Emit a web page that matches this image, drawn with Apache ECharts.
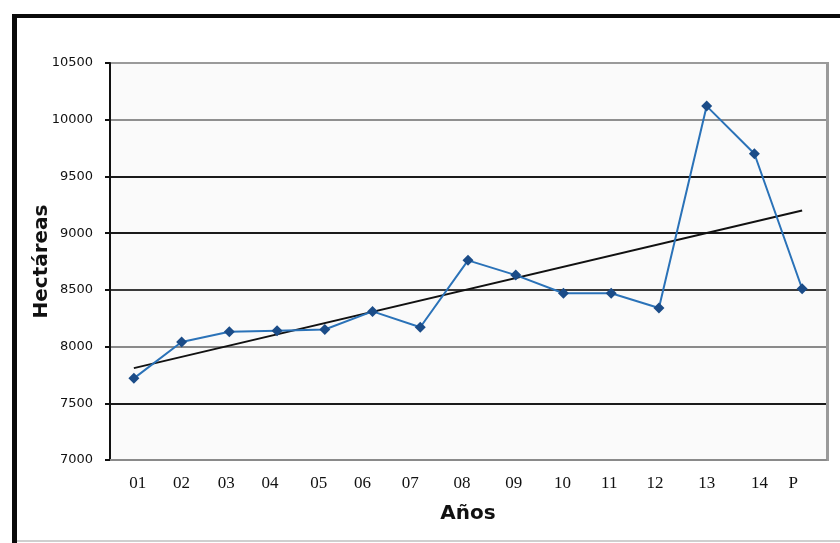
<!DOCTYPE html>
<html>
<head>
<meta charset="utf-8">
<script src="https://cdn.jsdelivr.net/npm/echarts@6/dist/echarts.min.js"></script>
<style>
html,body{margin:0;padding:0;background:#fff;}
#chart{width:840px;height:543px;}
</style>
</head>
<body>
<div id="chart"></div>
<script>
// ---- data ----
var categories = ['01','02','03','04','05','06','07','08','09','10','11','12','13','14','P'];
var hectareas = [7720, 8040, 8130, 8140, 8150, 8310, 8170, 8760, 8630, 8470, 8470, 8340, 10120, 9700, 8510];
var trendEnds = [7810, 9200]; // linear trend value at first and last category
var yTicks = [7000, 7500, 8000, 8500, 9000, 9500, 10000, 10500];

// ---- styling helpers ----
var labelShift = [4,0,-3,-7,-6,-10,-10,-6,-2,-1,-2,-4,0,5,-9];
var rich = {};
labelShift.forEach(function(s, i){
  rich['l' + i] = {
    fontFamily: 'Liberation Serif', fontSize: 17, color: '#111',
    padding: s >= 0 ? [0, 0, 0, 2 * s] : [0, -2 * s, 0, 0]
  };
});
var trendData = categories.map(function(c, i){
  if (i === 0) return trendEnds[0];
  if (i === categories.length - 1) return trendEnds[1];
  return null;
});

var chart = echarts.init(document.getElementById('chart'), null, {renderer: 'canvas'});
chart.setOption({
  animation: false,
  backgroundColor: '#ffffff',
  grid: {left: 110, right: 14, top: 63, bottom: 83, show: true, backgroundColor: '#fafafa', borderWidth: 0},
  xAxis: {
    type: 'category',
    data: categories,
    boundaryGap: true,
    name: 'Años',
    nameLocation: 'middle',
    nameGap: 44,
    nameMoveOverlap: false,
    nameTextStyle: {fontFamily: 'DejaVu Sans', fontWeight: 'bold', fontSize: 20, color: '#111'},
    axisLine: {show: true, lineStyle: {color: '#8a8a8a', width: 2}},
    axisTick: {show: false},
    axisLabel: {
      margin: 15,
      interval: 0,
      formatter: function(v, i){ return '{l' + i + '|' + v + '}'; },
      rich: rich
    },
    splitLine: {show: false}
  },
  yAxis: {
    type: 'value',
    min: yTicks[0],
    max: yTicks[yTicks.length - 1],
    interval: yTicks[1] - yTicks[0],
    name: 'Hectáreas',
    nameLocation: 'middle',
    nameRotate: 90,
    nameGap: 58,
    nameMoveOverlap: false,
    nameTextStyle: {fontFamily: 'DejaVu Sans', fontWeight: 'bold', fontSize: 20, color: '#111'},
    axisLine: {show: true, lineStyle: {color: '#111', width: 2}},
    axisTick: {show: true, length: 5, lineStyle: {color: '#111', width: 2}},
    axisLabel: {margin: 17, fontFamily: 'DejaVu Sans', fontSize: 13, color: '#111',
      formatter: function(v){ return String(v); }},
    splitLine: {show: true, lineStyle: {width: 2, color: ['#8f8f8f', '#1a1a1a', '#8a8a8a', '#3a3a3a', '#1a1a1a', '#1a1a1a', '#8f8f8f', '#9a9a9a']}}
  },
  series: [
    {
      name: 'Hectáreas',
      type: 'line',
      data: hectareas,
      symbol: 'diamond',
      symbolSize: 11,
      lineStyle: {color: '#2a72b8', width: 2},
      itemStyle: {color: '#1b4c88'},
      z: 3
    },
    {
      name: 'Tendencia',
      type: 'line',
      data: trendData,
      connectNulls: true,
      showSymbol: false,
      symbol: 'none',
      lineStyle: {color: '#111', width: 2},
      z: 2
    }
  ],
  graphic: [
    {type: 'rect', left: 826, top: 62, shape: {width: 3, height: 399}, style: {fill: '#9a9a9a'}, silent: true},
    {type: 'rect', left: 12, top: 14, shape: {width: 5, height: 529}, style: {fill: '#0a0a0a'}, silent: true},
    {type: 'rect', left: 12, top: 14, shape: {width: 828, height: 4}, style: {fill: '#0a0a0a'}, silent: true},
    {type: 'rect', left: 17, top: 540, shape: {width: 823, height: 2}, style: {fill: '#cfcfcf'}, silent: true}
  ]
});
</script>
</body>
</html>
